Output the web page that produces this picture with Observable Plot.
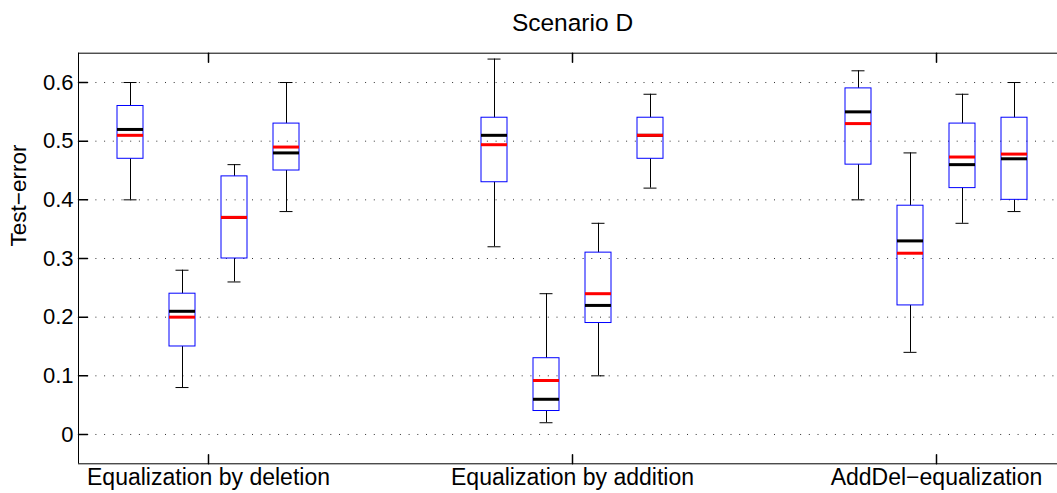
<!DOCTYPE html>
<html>
<head>
<meta charset="utf-8">
<script src="https://cdn.jsdelivr.net/npm/d3@7"></script>
<script src="https://cdn.jsdelivr.net/npm/@observablehq/plot@0.6"></script>
<style>
  body { margin: 0; background: #fff; }
  svg { display: block; }
</style>
</head>
<body>
<div id="chart"></div>
<script>
// Test-error distributions, four methods per equalization strategy
const groups = ["Equalization by deletion", "Equalization by addition", "AddDel\u2212equalization"];
const boxesPerGroup = 4;
const whiskerHigh = [0.60, 0.28, 0.46, 0.60,  0.64, 0.24, 0.36, 0.58,  0.62, 0.48, 0.58, 0.60];
const upperQuartile = [0.56, 0.24, 0.44, 0.53,  0.54, 0.13, 0.31, 0.54,  0.59, 0.39, 0.53, 0.54];
const median = [0.52, 0.21, 0.37, 0.48,  0.51, 0.06, 0.22, 0.51,  0.55, 0.33, 0.46, 0.47];
const mean = [0.51, 0.20, 0.37, 0.49,  0.494, 0.092, 0.24, 0.51,  0.53, 0.309, 0.473, 0.478];
const lowerQuartile = [0.47, 0.15, 0.30, 0.45,  0.43, 0.04, 0.19, 0.47,  0.46, 0.22, 0.42, 0.40];
const whiskerLow = [0.40, 0.08, 0.26, 0.38,  0.32, 0.02, 0.10, 0.42,  0.40, 0.14, 0.36, 0.38];
const yTicks = [0, 0.1, 0.2, 0.3, 0.4, 0.5, 0.6];
const title = "Scenario D";
const yLabel = "Test\u2212error";

// Layout: each group takes 4 slots, followed by 3 empty slots
const slot = boxesPerGroup + 3;
const boxes = whiskerHigh.map((_, i) => {
  const g = Math.floor(i / boxesPerGroup), j = i % boxesPerGroup;
  return {
    pos: g * slot + j,
    hi: whiskerHigh[i], q3: upperQuartile[i], med: median[i],
    mean: mean[i], q1: lowerQuartile[i], lo: whiskerLow[i]
  };
});
const centers = groups.map((_, g) => g * slot + (boxesPerGroup - 1) / 2);
const xDomain = [-1, (groups.length - 1) * slot + boxesPerGroup];
const yDomain = [-0.05, 0.65];
const halfBox = 0.25, halfCap = 0.125;

// Short inward tick drawn as a plain line segment
const tickShape = {draw(ctx, l) { ctx.moveTo(0, 0); ctx.lineTo(0, -l); }};
const tickLen = 9;

const chart = Plot.plot({
  width: 1057,
  height: 493,
  marginLeft: 78,
  marginRight: 0,
  marginTop: 52.7,
  marginBottom: 29.7,
  style: {
    fontFamily: "'Liberation Sans', Arial, Helvetica, sans-serif",
    fontSize: "22px",
    color: "black",
    background: "white"
  },
  x: {domain: xDomain, range: [78, 1066]},
  y: {domain: yDomain},
  marks: [
    // dotted grid
    Plot.ruleY(yTicks, {x1: xDomain[0], x2: xDomain[1], stroke: "#333", strokeDasharray: "1,7.7"}),
    // whiskers and caps
    Plot.ruleX(boxes, {x: "pos", y1: "q3", y2: "hi", stroke: "black"}),
    Plot.ruleX(boxes, {x: "pos", y1: "lo", y2: "q1", stroke: "black"}),
    Plot.ruleY(boxes, {y: "hi", x1: d => d.pos - halfCap, x2: d => d.pos + halfCap, stroke: "black"}),
    Plot.ruleY(boxes, {y: "lo", x1: d => d.pos - halfCap, x2: d => d.pos + halfCap, stroke: "black"}),
    // interquartile boxes
    Plot.rect(boxes, {x1: d => d.pos - halfBox, x2: d => d.pos + halfBox, y1: "q1", y2: "q3", fill: "none", stroke: "#0000ff"}),
    // median (black) and mean (red)
    Plot.ruleY(boxes, {y: "med", x1: d => d.pos - halfBox, x2: d => d.pos + halfBox, stroke: "black", strokeWidth: 3}),
    Plot.ruleY(boxes, {y: "mean", x1: d => d.pos - halfBox, x2: d => d.pos + halfBox, stroke: "#ff0000", strokeWidth: 3}),
    // axes box
    Plot.ruleX([xDomain[0]], {y1: yDomain[0], y2: yDomain[1], stroke: "black"}),
    Plot.ruleY(yDomain, {x1: xDomain[0], x2: xDomain[1], stroke: "black"}),
    // inward ticks
    Plot.vector(centers, {x: d => d, y: yDomain[0], length: tickLen, rotate: 0, anchor: "start", shape: tickShape, stroke: "black"}),
    Plot.vector(centers, {x: d => d, y: yDomain[1], length: tickLen, rotate: 180, anchor: "start", shape: tickShape, stroke: "black"}),
    Plot.vector(yTicks, {x: xDomain[0], y: d => d, length: tickLen, rotate: 90, anchor: "start", shape: tickShape, stroke: "black"}),
    // tick labels
    Plot.axisY({ticks: yTicks, tickSize: 0, tickPadding: 5, tickFormat: d => String(d), label: null, fontSize: 22}),
    Plot.axisX({ticks: centers, tickSize: 0, tickPadding: 5, tickFormat: d => groups[centers.indexOf(d)], label: null, fontSize: 23}),
    // title and y label
    Plot.text([title], {x: (xDomain[0] + xDomain[1]) / 2, y: yDomain[1], dy: -22, lineAnchor: "bottom", fontSize: 24.5, fill: "black"}),
    Plot.text([yLabel], {frameAnchor: "left", dx: -60, dy: -12, rotate: -90, fontSize: 22.5, fill: "black"})
  ]
});
document.getElementById("chart").appendChild(chart);
</script>
</body>
</html>
